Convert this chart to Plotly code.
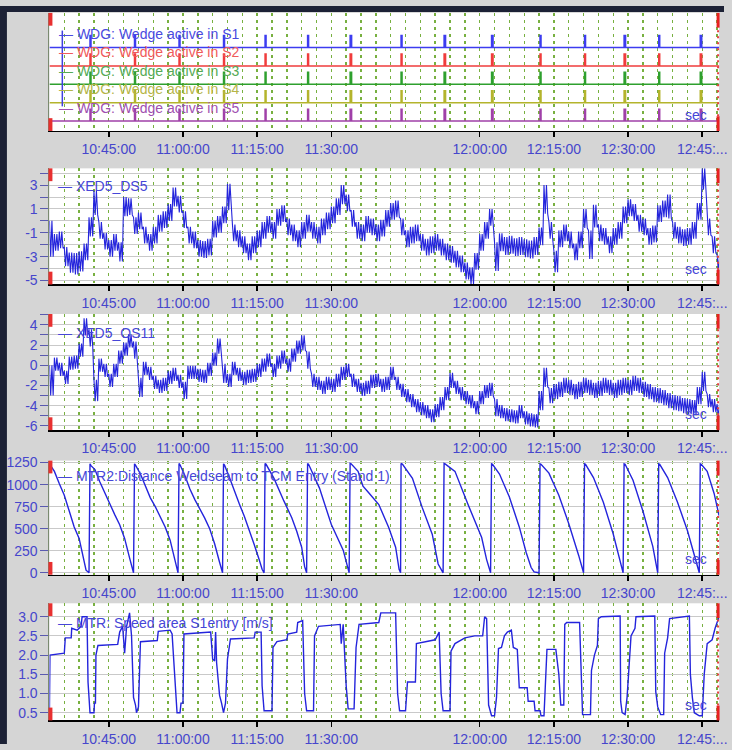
import plotly.graph_objects as go
from datetime import datetime, timedelta

# ---------------- DATA ----------------
T0 = datetime(2024, 1, 1, 10, 33, 0)          # left edge of the time axis
T_END_MIN = 135.4                              # minutes after T0 at right edge

TICK_MIN = [12, 27, 42, 57, 87, 102, 117, 132]  # 10:45 ... 12:45 (11:45 not labelled)
TICK_TEXT = ["10:45:00", "11:00:00", "11:15:00", "11:30:00",
             "12:00:00", "12:15:00", "12:30:00", "12:45:..."]

# weld passing events (minutes after 10:33:00)
EVENTS = [8.2, 17.2, 26.2, 35.2, 43.6, 52.2, 60.8, 71.1, 79.8, 89.4,
          99.2, 108.2, 116.2, 123.2, 131.6]
PULSE_MIN = [0.2, 0.2, 0.2, 0.2, 0.2, 0.2, 0.3, 0.2, 0.3, 0.3,
             0.2, 0.2, 0.3, 0.2, 0.3]
WDG_NAMES = ["WDG: Wedge active in S1", "WDG: Wedge active in S2", "WDG: Wedge active in S3",
             "WDG: Wedge active in S4", "WDG: Wedge active in S5"]
WDG_LEVEL = [5, 4, 3, 2, 1]

# XED5_DS5, one value per minute (centre of the noisy band) and band width
DS5_MID = [-1.5, -1.8, -1.6, -3.0, -3.5, -3.6, -3.4, -2.6, -0.5, 1.5,
           -0.8, -1.7, -2.3, -1.8, -2.6, 1.2, 1.2, -0.4, 0.0, -1.2,
           -1.8, -1.2, -0.2, 0.1, 0.7, 2.0, 1.4, 0.1, -1.2, -1.6,
           -2.3, -2.4, -2.2, -0.7, -0.3, 0.5, 2.0, -1.0, -1.5, -2.0,
           -2.6, -2.0, -1.5, -0.8, -0.3, -0.8, 0.3, 0.6, -0.5, -1.0,
           -1.5, -0.8, -0.2, -0.8, -1.2, -0.5, 0.0, 0.5, 1.2, 2.2,
           1.5, 0.2, -0.8, -1.0, -0.3, -0.5, -1.0, -0.6, 0.2, 0.8,
           1.0, -0.5, -1.5, -1.2, -1.0, -1.8, -2.2, -2.0, -1.8, -2.2,
           -2.6, -2.8, -3.2, -3.6, -4.2, -4.6, -3.4, -1.8, -0.8, 0.3,
           -3.0, -1.8, -2.1, -2.0, -2.2, -2.1, -2.3, -2.4, -2.1, -1.3,
           1.8, -0.8, -3.4, -1.5, -1.0, -1.6, -2.6, -1.6, 0.2, -2.0,
           0.4, -1.0, -1.3, -2.0, -1.3, -0.8, 0.5, 1.1, 0.7, -0.2,
           -0.5, -1.3, -1.1, 0.6, 1.0, 1.2, -0.8, -1.2, -1.4, -1.3,
           -0.8, 0.8, 3.5, -0.5, -2.0, -3.5]
DS5_BAND = [3.0, 1.4, 1.4, 1.6, 1.7, 1.8, 1.7, 1.4, 1.6, 2.0,
            1.4, 1.4, 1.4, 1.4, 1.6, 1.6, 1.4, 1.4, 1.4, 1.4,
            1.4, 1.4, 1.4, 1.4, 1.4, 1.6, 1.4, 1.4, 1.4, 1.4,
            1.4, 1.4, 1.4, 1.4, 1.4, 1.4, 2.2, 1.4, 1.4, 1.4,
            1.4, 1.4, 1.4, 1.4, 1.4, 1.4, 1.4, 1.4, 1.4, 1.4,
            1.4, 1.4, 1.4, 1.4, 1.4, 1.4, 1.4, 1.4, 1.4, 1.6,
            1.4, 1.4, 1.4, 1.4, 1.4, 1.4, 1.4, 1.4, 1.4, 1.4,
            1.4, 1.4, 1.4, 1.4, 1.4, 1.4, 1.4, 1.4, 1.4, 1.4,
            1.4, 1.4, 1.4, 1.4, 1.4, 1.4, 1.4, 1.4, 1.4, 1.4,
            2.4, 1.5, 1.5, 1.5, 1.5, 1.5, 1.5, 1.5, 1.5, 1.5,
            2.4, 1.4, 1.8, 1.4, 1.4, 1.4, 1.4, 1.4, 1.6, 2.4,
            1.9, 1.4, 1.4, 1.4, 1.4, 1.4, 1.4, 1.4, 1.4, 1.4,
            1.4, 1.4, 1.4, 1.4, 1.4, 2.0, 1.4, 1.4, 1.4, 1.4,
            1.4, 1.4, 1.8, 1.4, 1.4, 1.4]

# XED5_OS11, one value per minute and band width
OS11_MID = [-1.5, 0.1, -0.4, -1.2, 0.2, 0.3, 1.5, 3.8, 2.7, -2.5,
            0.0, -0.5, -1.5, -0.5, 0.8, 1.6, 2.4, 1.5, -2.2, -0.3,
            -0.8, -1.7, -2.1, -1.9, -1.2, -0.9, -1.6, -2.5, -0.7, -0.7,
            -1.0, -1.1, -0.4, 0.6, 1.9, -0.8, -1.5, -0.3, -0.9, -1.3,
            -1.1, -1.0, -0.5, 0.0, 0.5, -0.5, 0.3, 0.8, 0.0, 1.0,
            1.8, 2.2, 0.5, -1.5, -1.8, -2.2, -1.8, -2.0, -1.5, -0.8,
            -0.5, -1.5, -2.0, -2.4, -2.2, -1.6, -1.5, -2.0, -1.8, -0.8,
            -1.8, -2.5, -3.0, -3.5, -4.0, -4.3, -4.6, -5.0, -4.5, -3.8,
            -2.8, -1.5, -2.2, -2.8, -3.2, -3.6, -4.2, -3.2, -2.6, -2.4,
            -4.2, -4.6, -4.9, -5.0, -5.1, -4.6, -5.2, -5.4, -5.5, -3.5,
            -1.2, -3.0, -2.6, -2.4, -2.0, -2.2, -2.6, -2.4, -2.0, -2.2,
            -2.5, -2.3, -2.0, -2.2, -2.5, -2.2, -2.0, -2.2, -1.8, -2.0,
            -2.4, -2.6, -2.9, -3.0, -3.2, -3.5, -3.7, -3.8, -4.0, -4.1,
            -4.2, -3.0, -1.6, -3.5, -4.0, -4.5]
OS11_BAND = [3.0, 1.3, 1.3, 1.3, 1.3, 1.3, 1.3, 1.7, 1.7, 2.1,
             1.3, 1.3, 1.3, 1.3, 1.3, 1.3, 1.3, 1.7, 1.9, 1.3,
             1.3, 1.3, 1.3, 1.3, 1.3, 1.3, 1.3, 1.7, 1.3, 1.3,
             1.3, 1.3, 1.3, 1.3, 1.5, 1.9, 1.3, 1.3, 1.3, 1.3,
             1.3, 1.3, 1.3, 1.3, 1.3, 1.3, 1.3, 1.3, 1.3, 1.3,
             1.3, 1.5, 1.7, 1.3, 1.3, 1.3, 1.3, 1.3, 1.3, 1.3,
             1.3, 1.3, 1.3, 1.3, 1.3, 1.3, 1.3, 1.3, 1.3, 1.3,
             1.3, 1.3, 1.3, 1.3, 1.3, 1.3, 1.3, 1.3, 1.3, 1.3,
             1.3, 1.5, 1.3, 1.3, 1.3, 1.3, 1.3, 1.3, 1.3, 1.3,
             1.7, 1.3, 1.3, 1.3, 1.3, 1.3, 1.3, 1.3, 1.3, 1.9,
             1.9, 1.5, 1.5, 1.5, 1.5, 1.5, 1.5, 1.5, 1.5, 1.5,
             1.5, 1.5, 1.5, 1.5, 1.5, 1.5, 1.5, 1.5, 1.5, 1.5,
             1.5, 1.5, 1.5, 1.5, 1.5, 1.5, 1.5, 1.5, 1.5, 1.5,
             1.5, 1.7, 1.9, 1.3, 1.3, 1.3]

# MTR2: Distance Weldseam to TCM Entry (Stand 1)
MTR2_T = [0.0, 1.0, 2.0, 3.0, 4.0, 5.0, 6.0, 6.8, 7.4, 8.0,
          8.2, 8.4, 9.2, 10.2, 11.2, 12.2, 13.2, 14.2, 15.2, 16.2, 16.8, 17.0,
          17.2, 17.4, 18.4, 19.4, 20.4, 21.4, 22.4, 23.4, 24.4, 25.4, 25.9, 26.0,
          26.2, 26.4, 27.4, 28.4, 29.4, 30.4, 31.4, 32.4, 33.4, 34.4, 34.9, 35.0,
          35.2, 35.4, 36.4, 37.4, 38.4, 39.4, 40.4, 41.4, 42.4, 43.0, 43.4,
          43.6, 43.8, 45.4, 47.4, 49.0, 50.0, 51.0, 51.6, 52.0,
          52.2, 52.4, 54.6, 57.0, 59.4, 60.4, 60.6,
          60.8, 61.0, 62.4, 63.4, 64.6, 66.6, 68.6, 70.0, 70.7, 71.0,
          71.1, 71.4, 73.4, 75.4, 77.4, 78.6, 79.6,
          79.8, 80.0, 82.0, 84.6, 87.4, 88.4, 89.2,
          89.4, 89.6, 91.0, 93.0, 95.0, 96.4, 97.4, 98.0, 99.0,
          99.2, 99.4, 101.0, 103.0, 105.0, 107.0, 108.0,
          108.2, 108.4, 110.0, 112.0, 114.0, 115.6, 116.0,
          116.2, 116.4, 118.0, 120.0, 122.0, 123.0,
          123.2, 123.4, 125.0, 127.0, 129.0, 131.0, 131.4,
          131.6, 131.8, 133.0, 134.4, 135.4]
MTR2_V = [1235, 1150, 1010, 880, 700, 520, 390, 180, 30, 0,
          1235, 1215, 1170, 1030, 900, 790, 660, 545, 390, 170, 20, 0,
          1235, 1220, 1120, 980, 850, 750, 640, 520, 370, 150, 10, 0,
          1240, 1225, 1100, 950, 830, 730, 620, 500, 330, 120, 10, 0,
          1235, 1220, 1080, 920, 780, 640, 490, 320, 150, 40, 0,
          1240, 1230, 1070, 815, 625, 470, 290, 70, 0,
          1240, 1230, 960, 547, 257, 67, 0,
          1240, 1235, 1150, 982, 904, 774, 513, 290, 40, 0,
          1240, 1230, 1071, 736, 438, 100, 0,
          1240, 1235, 1150, 780, 400, 150, 0,
          1235, 1230, 1120, 860, 520, 230, 60, 10, 0,
          1235, 1230, 1130, 880, 560, 200, 0,
          1235, 1230, 1080, 800, 440, 60, 0,
          1235, 1230, 1050, 700, 300, 0,
          1235, 1230, 1080, 800, 480, 80, 0,
          1235, 1230, 1150, 900, 650]

# MTR: Speed area S1entry [m/s]
SPD_T = [0.0, 0.1, 3.0, 3.2, 4.4, 4.5, 5.6, 6.4, 6.6, 7.6, 7.8, 8.1, 8.2, 9.0, 9.1, 9.3, 9.4, 9.8,
         13.8, 14.2, 14.8, 15.2, 15.6, 16.2, 16.6, 17.0, 17.4, 17.6, 18.0, 18.4,
         21.8, 22.0, 24.4, 24.8, 25.4, 25.7, 25.8, 26.4, 26.6, 27.0, 27.2,
         32.6, 33.0, 33.4, 33.6, 33.8, 34.4, 34.8, 35.2, 35.6, 36.0, 36.6,
         40.0, 41.4, 41.6, 42.8, 43.0, 43.4, 45.0, 45.2, 46.0, 48.0, 48.2, 50.0, 50.2, 51.2,
         51.6, 52.0, 53.4, 53.6, 54.4, 58.8, 59.0, 59.4, 60.0, 60.4, 61.6, 62.0, 62.6,
         66.6, 67.0, 70.0, 70.4, 70.8, 72.0, 72.4, 74.0, 74.2, 78.0, 78.8, 79.2, 79.6,
         81.0, 81.2, 82.0, 84.0, 86.0, 87.6, 88.0, 88.4, 88.8, 89.4, 90.0, 90.4, 90.8,
         91.4, 92.0, 92.6, 93.4, 93.8, 94.6, 95.0, 96.6, 96.8, 98.0, 98.2, 99.2, 99.4,
         100.0, 100.4, 100.6, 102.4, 103.0, 103.4, 104.0, 104.2, 104.6, 107.2, 107.4,
         107.8, 109.4, 109.6, 110.2, 110.8, 111.0, 111.6, 115.4, 115.5, 115.8, 116.4,
         116.8, 117.4, 117.6, 118.4, 118.6, 122.4, 122.6, 123.0, 123.6, 124.2, 124.4,
         125.0, 125.4, 129.4, 129.6, 130.0, 130.4, 131.4, 132.0, 132.4, 133.0, 134.0,
         134.6, 135.4]
SPD_V = [0.6, 2.0, 2.05, 2.45, 2.45, 2.7, 2.65, 2.75, 3.0, 3.0, 1.3, 0.6, 0.5, 0.5, 0.75, 0.75, 2.0, 2.25,
         2.28, 2.6, 2.75, 2.05, 2.75, 3.1, 2.5, 0.9, 0.7, 0.5, 0.65, 2.35,
         2.38, 2.62, 2.65, 2.55, 1.4, 0.6, 0.5, 0.5, 0.75, 0.75, 2.55,
         2.6, 1.9, 1.85, 2.6, 1.8, 0.95, 0.75, 0.5, 0.75, 1.9, 2.42,
         2.45, 2.45, 2.6, 2.6, 1.2, 0.55, 0.55, 2.2, 2.35, 2.4, 2.55, 2.6, 2.85, 2.9,
         1.0, 0.55, 0.55, 2.5, 2.75, 2.8, 2.3, 2.8, 1.2, 0.6, 0.6, 2.2, 2.8,
         2.85, 3.1, 3.1, 1.0, 0.55, 0.55, 1.3, 1.3, 2.3, 2.4, 2.6, 1.0, 0.55,
         0.55, 2.1, 2.3, 2.45, 2.5, 2.5, 3.0, 2.95, 0.7, 0.42, 0.42, 0.9, 2.17,
         2.2, 2.5, 2.6, 2.65, 2.2, 2.15, 1.15, 1.15, 0.8, 0.8, 0.55, 0.55, 0.42,
         0.42, 1.75, 2.15, 2.15, 1.5, 0.7, 0.7, 2.8, 2.85, 2.85, 2.05,
         0.45, 0.45, 1.6, 2.0, 2.25, 2.95, 3.0, 3.02, 0.8, 0.5, 0.45,
         0.9, 2.2, 2.5, 2.7, 3.0, 3.02, 1.05, 0.65, 0.45, 0.45, 2.05,
         2.45, 2.95, 3.02, 1.5, 0.9, 0.5, 0.42, 0.42, 1.5, 2.3, 2.4,
         2.7, 3.0]

# ---------------- STYLE / LAYOUT ----------------
W, H = 732, 750
XL, XR = 50, 727
PANELS = [(7, 127), (165, 283), (313, 431), (462, 578), (607, 726)]
BLUE = "#2424dc"
LABEL = "#4646cc"
GRIDG = "#78b040"
FONT = "Liberation Sans, Arial, sans-serif"
WDG_COLORS = ["#3c3cf0", "#f03c3c", "#2ea02e", "#b4b42c", "#a040a8"]
WDG_TEXT = ["#4a4ae0", "#f05a5a", "#55aa55", "#b5b548", "#a050b0"]


def t(m):
    return T0 + timedelta(minutes=m)


fig = go.Figure()

# panel 1: wedge signals
for s in range(5):
    xs, ys = [t(0)], [WDG_LEVEL[s]]
    for e, d in zip(EVENTS, PULSE_MIN):
        xs += [t(e), t(e), t(e + d), t(e + d)]
        ys += [WDG_LEVEL[s], WDG_LEVEL[s] + 0.65, WDG_LEVEL[s] + 0.65, WDG_LEVEL[s]]
    xs.append(t(T_END_MIN + 1))
    ys.append(WDG_LEVEL[s])
    fig.add_trace(go.Scatter(x=xs, y=ys, mode="lines", xaxis="x", yaxis="y",
                             line=dict(color=WDG_COLORS[s], width=1.5), hoverinfo="skip"))


def noisy(mid, band):
    # each minute is drawn as a dense zig-zag between the upper and lower edge of the band
    xs, ys = [], []
    for m, (v, b) in enumerate(zip(mid, band)):
        hi, lo = v + b / 2, v - b / 2
        xs += [t(m), t(m + 0.25), t(m + 0.5), t(m + 0.75)]
        ys += [hi, lo, hi, lo]
    return xs, ys


xs, ys = noisy(DS5_MID, DS5_BAND)
fig.add_trace(go.Scatter(x=xs, y=ys, mode="lines", xaxis="x2", yaxis="y2",
                         line=dict(color=BLUE, width=1.1), hoverinfo="skip"))
xs, ys = noisy(OS11_MID, OS11_BAND)
fig.add_trace(go.Scatter(x=xs, y=ys, mode="lines", xaxis="x3", yaxis="y3",
                         line=dict(color=BLUE, width=1.1), hoverinfo="skip"))
fig.add_trace(go.Scatter(x=[t(m) for m in MTR2_T], y=MTR2_V, mode="lines", xaxis="x4", yaxis="y4",
                         line=dict(color=BLUE, width=1.4), hoverinfo="skip"))
fig.add_trace(go.Scatter(x=[t(m) for m in SPD_T], y=SPD_V, mode="lines", xaxis="x5", yaxis="y5",
                         line=dict(color=BLUE, width=1.4), hoverinfo="skip"))

Y_SETUP = [
    dict(range=[0.465, 6.88], tickvals=[], ticktext=[], grid=False),
    dict(range=[-5.33, 4.4], tickvals=[-5, -4, -3, -2, -1, 0, 1, 2, 3, 4],
         ticktext=["-5", "", "-3", "", "-1", "", "1", "", "3", ""], grid=True),
    dict(range=[-6.42, 5.07], tickvals=[-6, -5, -4, -3, -2, -1, 0, 1, 2, 3, 4, 5],
         ticktext=["-6", "", "-4", "", "-2", "", "0", "", "2", "", "4", ""], grid=True),
    dict(range=[-22, 1272], tickvals=[0, 250, 500, 750, 1000, 1250],
         ticktext=["0", "250", "500", "750", "1000", "1250"], grid=True),
    dict(range=[0.30, 3.35], tickvals=[0.5, 1.0, 1.5, 2.0, 2.5, 3.0],
         ticktext=["0.5", "1.0", "1.5", "2.0", "2.5", "3.0"], grid=True),
]

layout = dict(width=W, height=H, margin=dict(l=0, r=0, t=0, b=0),
              paper_bgcolor="#d5d5d5", plot_bgcolor="#ffffff", showlegend=False,
              font=dict(family=FONT, size=14, color=LABEL))

for i, (top, bot) in enumerate(PANELS):
    k = "" if i == 0 else str(i + 1)
    layout["xaxis" + k] = dict(
        domain=[XL / W, XR / W], anchor="y" + k, type="date",
        range=[t(0), t(T_END_MIN)],
        tickmode="array", tickvals=[t(m) for m in TICK_MIN], ticktext=TICK_TEXT,
        ticks="outside", ticklen=5, tickwidth=1.5, tickcolor="#000000",
        ticklabeloverflow="allow",
        showline=True, linecolor="#000000", linewidth=1.5,
        showgrid=True, gridcolor=GRIDG, gridwidth=1.4, griddash="3px,4px",
        minor=dict(tickmode="linear", tick0=t(0), dtick=180000, showgrid=True,
                   gridcolor=GRIDG, gridwidth=1.4, griddash="3px,4px", ticks=""),
        tickfont=dict(family=FONT, size=14, color=LABEL), zeroline=False, fixedrange=True,
    )
    ys_ = Y_SETUP[i]
    layout["yaxis" + k] = dict(
        domain=[1 - bot / H, 1 - top / H], anchor="x" + k, range=ys_["range"],
        tickmode="array", tickvals=ys_["tickvals"], ticktext=ys_["ticktext"],
        ticks="outside" if ys_["grid"] else "", ticklen=8, tickcolor="#5a5ab0",
        showline=True, linecolor="#7a8a70", linewidth=1,
        showgrid=ys_["grid"], gridcolor="#c9c9c9", gridwidth=1,
        tickfont=dict(family=FONT, size=14, color=LABEL), zeroline=False, fixedrange=True,
    )

shapes = [
    dict(type="rect", xref="paper", yref="paper", x0=0, x1=7 / W, y0=0, y1=1,
         fillcolor="#1c2135", line=dict(width=0), layer="above"),
    dict(type="rect", xref="paper", yref="paper", x0=0, x1=1, y0=1 - 6 / H, y1=1,
         fillcolor="#1c2135", line=dict(width=0), layer="above"),
]
for (top, bot) in PANELS:
    yt, yb = 1 - top / H, 1 - bot / H
    # left cursor blocks
    shapes.append(dict(type="rect", xref="paper", yref="paper", x0=49 / W, x1=53 / W,
                       y0=1 - (top + 13) / H, y1=yt, fillcolor="#e83030", line=dict(width=0)))
    shapes.append(dict(type="rect", xref="paper", yref="paper", x0=49 / W, x1=53 / W,
                       y0=yb, y1=1 - (bot - 13) / H, fillcolor="#e83030", line=dict(width=0)))
    # right cursor
    xr = 726 / W
    shapes.append(dict(type="line", xref="paper", yref="paper", x0=xr, x1=xr,
                       y0=1 - (top + 15) / H, y1=yt, line=dict(color="#e82020", width=3)))
    shapes.append(dict(type="line", xref="paper", yref="paper", x0=xr, x1=xr,
                       y0=yb, y1=1 - (bot - 15) / H, line=dict(color="#e82020", width=3)))
    shapes.append(dict(type="line", xref="paper", yref="paper", x0=xr, x1=xr,
                       y0=1 - (bot - 15) / H, y1=1 - (top + 15) / H,
                       line=dict(color="#e84040", width=2, dash="2px,4px")))

# vertical legend bracket in the wedge panel
shapes.append(dict(type="line", xref="paper", yref="paper", x0=63 / W, x1=63 / W,
                   y0=1 - 102 / H, y1=1 - 25 / H, line=dict(color="#4040e0", width=1.5)))

annotations = []
for s in range(5):
    annotations.append(dict(xref="paper", yref="paper", x=58 / W, y=1 - (28 + 18.8 * s) / H,
                            xanchor="left", yanchor="middle", showarrow=False,
                            text="— " + WDG_NAMES[s],
                            font=dict(family=FONT, size=14, color=WDG_TEXT[s])))
LEG = [(183, "— XED5_DS5"), (332, "— XED5_OS11"),
       (478, "— MTR2:Distance Weldseam to TCM Entry (Stand 1)"),
       (627, "— MTR: Speed area S1entry [m/s]")]
for y, txt in LEG:
    annotations.append(dict(xref="paper", yref="paper", x=57 / W, y=1 - y / H,
                            xanchor="left", yanchor="middle", showarrow=False, text=txt,
                            font=dict(family=FONT, size=14, color="#4646d8")))
for (top, bot) in PANELS:
    annotations.append(dict(xref="paper", yref="paper", x=717 / W, y=1 - (bot - 16) / H,
                            xanchor="right", yanchor="middle", showarrow=False, text="sec",
                            font=dict(family=FONT, size=14, color="#4646d8")))

layout["shapes"] = shapes
layout["annotations"] = annotations
fig.update_layout(**layout)
fig.write_html("out.html",
               config={"displayModeBar": False, "staticPlot": True},
               post_script="document.body.style.margin='0';"
                           "document.documentElement.style.overflow='hidden';")
